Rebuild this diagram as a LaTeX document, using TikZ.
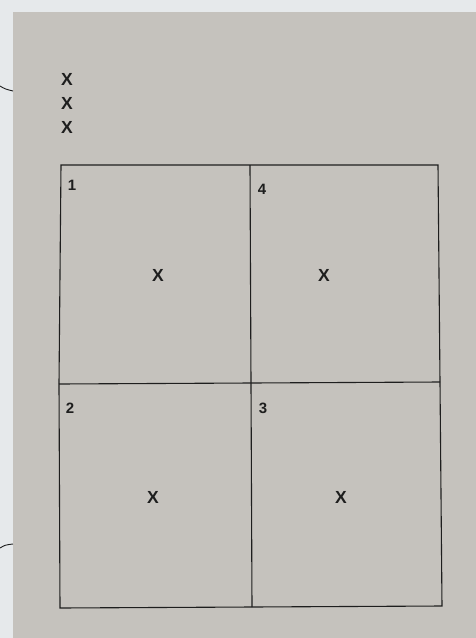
\documentclass[tikz,border=0pt]{standalone}
\usepackage{fontspec}
\setmainfont{Liberation Sans}
\definecolor{bgc}{HTML}{E6E9EB}
\definecolor{paper}{HTML}{C5C2BD}
\definecolor{ink}{HTML}{1E1E1E}
\begin{document}
\begin{tikzpicture}[x=1pt,y=-1pt,
  gridline/.style={draw=ink,line width=1.1pt},
  mark X/.style={font=\fontsize{17.5}{18}\selectfont\bfseries,text=ink,inner sep=0pt},
  numlabel/.style={font=\fontsize{15}{15}\selectfont\bfseries,text=ink,inner sep=0pt},
  edgecurve/.style={draw=ink,line width=0.9pt}]
\useasboundingbox (0,0) rectangle (476,638);
\fill[bgc] (0,0) rectangle (476,638);
\fill[paper] (13,12) rectangle (476,638);
% curves at left edge
\coordinate (c1a) at (0,86);
\coordinate (c1b) at (13,91);
\coordinate (c2a) at (0,548);
\coordinate (c2b) at (13,544);
\draw[edgecurve] (c1a) .. controls (5,89) .. (c1b);
\draw[edgecurve] (c2a) .. controls (5,545) .. (c2b);
% top-left X marks
\node[mark X] (x1) at (67,79) {X};
\node[mark X] (x2) at (67,103) {X};
\node[mark X] (x3) at (67,127) {X};
% grid corners
\coordinate (tl) at (61,165);
\coordinate (tm) at (250,165);
\coordinate (tr) at (438,165);
\coordinate (ml) at (59,384);
\coordinate (mm) at (251,383);
\coordinate (mr) at (440,382);
\coordinate (bl) at (60,608);
\coordinate (bm) at (252,607);
\coordinate (br) at (442,606);
\draw[gridline] (tl) -- (tr) -- (mr) -- (br) -- (bm) -- (bl) -- (ml) -- cycle;
\draw[gridline] (tm) -- (mm) -- (bm);
\draw[gridline] (ml) -- (mm) -- (mr);
% cell numbers
\node[numlabel] (n1) at (72,185) {1};
\node[numlabel] (n4) at (262,189) {4};
\node[numlabel] (n2) at (70,408) {2};
\node[numlabel] (n3) at (263,408) {3};
% cell X marks
\node[mark X] (c1) at (158,275) {X};
\node[mark X] (c4) at (324,275) {X};
\node[mark X] (c2) at (153,497) {X};
\node[mark X] (c3) at (341,497) {X};
\end{tikzpicture}
\end{document}
